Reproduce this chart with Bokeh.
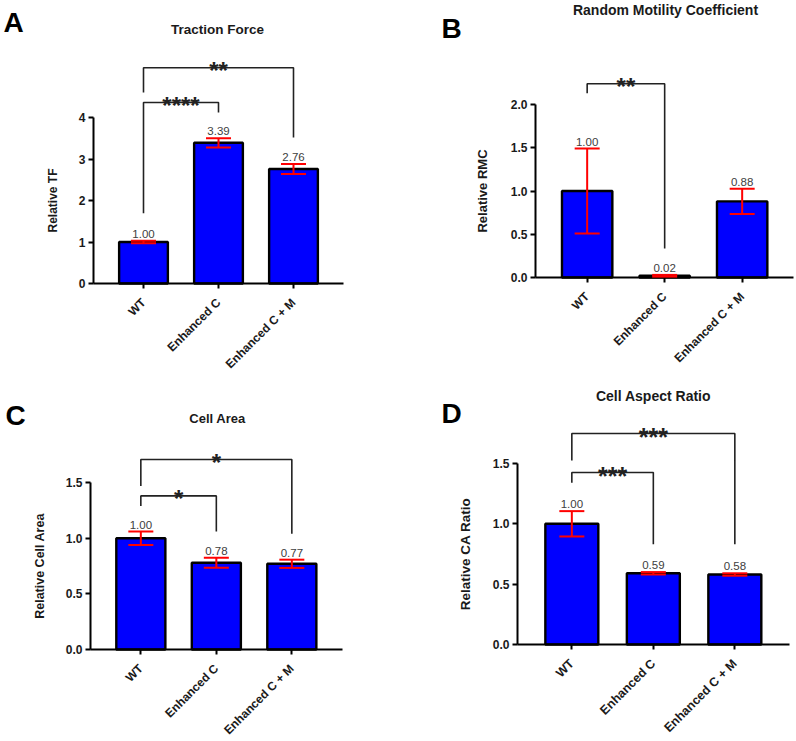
from bokeh.plotting import figure
from bokeh.models import (ColumnDataSource, Range1d, FixedTicker,
                          NumeralTickFormatter, Whisker, TeeHead)
from bokeh.layouts import column, row
from bokeh.core.properties import value
from bokeh.embed import file_html
from bokeh.resources import INLINE
import math

# ---------------- data ----------------
categories = ["WT", "Enhanced C", "Enhanced C + M"]

tf_mean = [1.00, 3.39, 2.76]
tf_err = [0.03, 0.11, 0.12]

rmc_mean = [1.00, 0.02, 0.88]
rmc_err = [0.49, 0.01, 0.145]

area_mean = [1.00, 0.78, 0.77]
area_err = [0.06, 0.045, 0.037]

ratio_mean = [1.00, 0.59, 0.58]
ratio_err = [0.105, 0.01, 0.01]

tf_ticks = [0, 1, 2, 3, 4]
rmc_ticks = [0.0, 0.5, 1.0, 1.5, 2.0]
area_ticks = [0.0, 0.5, 1.0, 1.5]
ratio_ticks = [0.0, 0.5, 1.0, 1.5]

# significance comparisons: (group a, group b, stars)
tf_sig = [("WT", "Enhanced C + M", "**"), ("WT", "Enhanced C", "****")]
rmc_sig = [("WT", "Enhanced C", "**")]
area_sig = [("WT", "Enhanced C + M", "*"), ("WT", "Enhanced C", "*")]
ratio_sig = [("WT", "Enhanced C + M", "***"), ("WT", "Enhanced C", "***")]

# ---------------- layout / style ----------------
FONT = "Liberation Sans"
BLUE = "#0000FF"
RED = "#FF0000"
INK = "#1a1a1a"

# bracket geometry: (y of bar, y where left leg ends, y where right leg ends)
tf_br = [(5.2, 4.6, 3.52), (4.36, 1.69, 4.12)]
rmc_br = [(2.24, 2.13, 0.335)]
area_br = [(1.707, 1.47, 1.04), (1.38, 1.29, 1.06)]
ratio_br = [(1.748, 1.524, 0.83), (1.425, 1.34, 0.83)]

X0, X1 = -2 / 3, 2 + 2 / 3   # x-axis extent around the three categories


def panel(letter, title, ylabel, means, errs, ticks, fmt, sig, br_geo,
          fig, origin, s, pxu, title_pos, letter_pos, lab_standoff,
          title_size, ylab_size, xlab_size, star_size):
    fx, fy, W, H = fig          # page position / size of the figure
    ax, ay = origin             # page position of the axes' corner
    xs = X0 - (ax - fx) / s
    xe = xs + W / s
    ys = -(fy + H - ay) / pxu
    ye = (ay - fy) / pxu

    def X(px):
        return xs + (px - fx) / s

    def Y(py):
        return (ay - py) / pxu

    p = figure(x_range=Range1d(xs, xe), y_range=Range1d(ys, ye),
               width=W, height=H, min_border=0,
               output_backend="svg", toolbar_location=None)
    p.outline_line_color = None
    p.grid.visible = False

    idx = list(range(len(categories)))
    src = ColumnDataSource(dict(
        x=idx, mean=means,
        upper=[m + e for m, e in zip(means, errs)],
        lower=[m - e for m, e in zip(means, errs)],
        lbl=[f"{m:.2f}" for m in means]))

    p.vbar(x="x", top="mean", width=0.65, source=src, fill_color=BLUE,
           line_color="black", line_width=2.4)

    w = Whisker(source=src, base="x", upper="upper", lower="lower",
                line_color=RED, line_width=2, level="overlay",
                upper_head=TeeHead(size=25, line_color=RED, line_width=2),
                lower_head=TeeHead(size=25, line_color=RED, line_width=2))
    p.add_layout(w)

    p.text(x="x", y="upper", text="lbl", source=src, text_align="center",
           text_baseline="bottom", y_offset=-3, text_font=value(FONT),
           text_font_size="11.5px", text_color="#404040")

    pos = {c: i for i, c in enumerate(categories)}
    for (a, b, stars), (ytop, ya, yb) in zip(sig, br_geo):
        p.line(x=[pos[a], pos[a], pos[b], pos[b]], y=[ya, ytop, ytop, yb],
               line_color="#222222", line_width=1.6)
        p.text(x=[(pos[a] + pos[b]) / 2], y=[ytop], text=[stars],
               text_align="center", text_baseline="alphabetic", y_offset=3,
               text_font=value(FONT), text_font_size=star_size,
               text_font_style="bold", text_color="#222222")

    # chart title and panel letter
    p.text(x=[X(title_pos[0])], y=[Y(title_pos[1])], text=[title],
           text_align="center", text_baseline="middle", text_font=value(FONT),
           text_font_size=title_size, text_font_style="bold", text_color=INK)
    p.text(x=[X(letter_pos[0])], y=[Y(letter_pos[1])], text=[letter],
           text_align="left", text_baseline="alphabetic", text_font=value(FONT),
           text_font_size="28px", text_font_style="bold", text_color="black")

    for axis in (p.xaxis, p.yaxis):
        axis.axis_line_width = 2
        axis.axis_line_color = "black"
        axis.major_tick_line_width = 2
        axis.major_tick_line_color = "black"
        axis.major_tick_out = 5
        axis.major_tick_in = 0
        axis.minor_tick_line_color = None
        axis.major_label_text_font = FONT
        axis.major_label_text_font_style = "bold"
        axis.major_label_text_color = INK

    p.xaxis.fixed_location = 0
    p.xaxis.bounds = (X0, X1)
    p.xaxis.ticker = FixedTicker(ticks=idx)
    p.xaxis.major_label_overrides = {i: c for i, c in zip(idx, categories)}
    p.xaxis.major_label_orientation = math.pi / 4
    p.xaxis.major_label_standoff = 12
    p.xaxis.major_label_text_font_size = xlab_size

    p.yaxis.fixed_location = X0
    p.yaxis.ticker = FixedTicker(ticks=ticks)
    p.yaxis.formatter = NumeralTickFormatter(format=fmt)
    p.yaxis.bounds = (ticks[0], ticks[-1])
    p.yaxis.major_label_standoff = 3
    p.yaxis.major_label_text_font_size = "12px"
    p.yaxis.axis_label = ylabel
    p.yaxis.axis_label_text_font = FONT
    p.yaxis.axis_label_text_font_size = ylab_size
    p.yaxis.axis_label_text_font_style = "bold"
    p.yaxis.axis_label_text_color = INK
    p.yaxis.axis_label_standoff = lab_standoff
    return p


pA = panel("A", "Traction Force", "Relative TF", tf_mean, tf_err, tf_ticks, "0",
           tf_sig, tf_br, fig=(0, 0, 398, 370), origin=(93, 283), s=75,
           pxu=41.5, title_pos=(217, 29), letter_pos=(3, 22), lab_standoff=16,
           title_size="13.5px", ylab_size="12px", xlab_size="12px",
           star_size="24px")
pB = panel("B", "Random Motility Coefficient", "Relative RMC", rmc_mean, rmc_err,
           rmc_ticks, "0.0", rmc_sig, rmc_br, fig=(398, 0, 398, 370),
           origin=(535, 277), s=77.5, pxu=86.5, title_pos=(665, 9),
           letter_pos=(441, 28), lab_standoff=18,
           title_size="14px", ylab_size="13px", xlab_size="12px",
           star_size="24px")
pC = panel("C", "Cell Area", "Relative Cell Area", area_mean, area_err,
           area_ticks, "0.0", area_sig, area_br, fig=(0, 370, 398, 370),
           origin=(90, 649), s=75.5, pxu=111.3, title_pos=(217, 418),
           letter_pos=(5, 415), lab_standoff=16,
           title_size="13px", ylab_size="12.5px", xlab_size="12px",
           star_size="24px")
pD = panel("D", "Cell Aspect Ratio", "Relative CA Ratio", ratio_mean, ratio_err,
           ratio_ticks, "0.0", ratio_sig, ratio_br, fig=(398, 370, 398, 370),
           origin=(517, 644), s=81.5, pxu=120.7, title_pos=(653, 395),
           letter_pos=(441, 413), lab_standoff=17,
           title_size="14px", ylab_size="13.5px", xlab_size="12.5px",
           star_size="25px")

layout = column(row(pA, pB), row(pC, pD))
open("out.html", "w").write(file_html(layout, INLINE))
